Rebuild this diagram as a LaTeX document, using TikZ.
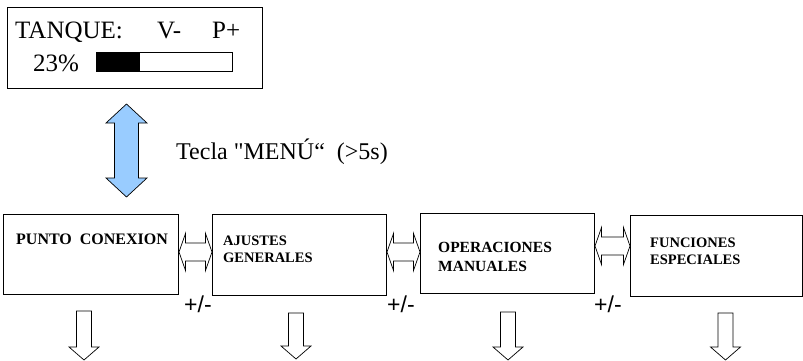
\documentclass[tikz,border=0pt]{standalone}
\usepackage{fontspec}
\setmainfont{Liberation Serif}
\newfontfamily\signfont{Liberation Sans}
\usetikzlibrary{positioning,calc}
\definecolor{menublue}{HTML}{99CCFF}

\tikzset{
  menubox/.style={draw, line width=1pt, anchor=north west, inner sep=0pt},
  boxtext/.style={anchor=base west, inner sep=0pt, align=left, font=\bfseries\fontsize{14.5}{17}\selectfont},
  bigtext/.style={anchor=base west, inner sep=0pt, font=\fontsize{25}{25}\selectfont},
  signtext/.style={anchor=base west, inner sep=0pt, font=\signfont\fontsize{23}{23}\selectfont},
  hollow/.style={draw, fill=white, line width=0.7pt},
}
% hollow double arrow between two boxes, centred at height #3
\newcommand\swaparrow[3]{%
  \coordinate (l) at (#1.east |- 0,#3);
  \coordinate (r) at (#2.west |- 0,#3);
  \draw[hollow] (l) -- ($(l)+(6.5,-18.5)$) -- ($(l)+(6.5,-9)$) -- ($(r)+(-6.5,-9)$)
    -- ($(r)+(-6.5,-18.5)$) -- (r) -- ($(r)+(-6.5,18.5)$) -- ($(r)+(-6.5,9)$)
    -- ($(l)+(6.5,9)$) -- ($(l)+(6.5,18.5)$) -- cycle;
}
% hollow arrow pointing down: centre x, top, tip
\newcommand\downblock[3]{%
  \draw[hollow] (#1-7.5,#2) -- (#1+7.5,#2) -- (#1+7.5,#3-13) -- (#1+15,#3-13)
    -- (#1,#3) -- (#1-15,#3-13) -- (#1-7.5,#3-13) -- cycle;
}

\begin{document}
\begin{tikzpicture}[x=1pt, y=-1pt]
  \useasboundingbox (0,0) rectangle (803,361);

  % display
  \node[menubox, minimum width=255pt, minimum height=81pt] (tanque) at (7,7) {};
  \node[bigtext] (nivel) at (15,39) {\makebox[142pt][l]{TANQUE:}\makebox[55pt][l]{V-}P+};
  \node[bigtext] (porcentaje) at (33,71) {23\%};
  \draw[line width=1pt] (96,53) rectangle (232,72);
  \fill (96,53) rectangle (140,72);

  % menu key
  \draw[fill=menublue, line width=0.7pt] (126.5,104) -- (147,123) -- (138.5,123) -- (138.5,178)
    -- (147,178) -- (126.5,197) -- (106,178) -- (114.5,178) -- (114.5,123) -- (106,123) -- cycle;
  \node[anchor=base west, inner sep=0pt, font=\fontsize{24}{24}\selectfont] (tecla) at (176,159) {Tecla \textquotedbl MENÚ“\ \ (>5s)};

  % menus
  \node[menubox, minimum width=175pt, minimum height=80pt] (conexion) at (3,214) {};
  \node[menubox, minimum width=174pt, minimum height=81pt] (ajustes) at (212,214) {};
  \node[menubox, minimum width=174pt, minimum height=80pt] (operaciones) at (420,213) {};
  \node[menubox, minimum width=172pt, minimum height=81pt] (funciones) at (630,215) {};

  % base anchor = last line
  \node[boxtext, font=\bfseries\fontsize{16}{19}\selectfont] (txtconexion) at (16,244) {PUNTO\ \ CONEXION};
  \node[boxtext, font=\bfseries\fontsize{14.5}{16.5}\selectfont] (txtajustes) at (223,262) {AJUSTES\\GENERALES};
  \node[boxtext, font=\bfseries\fontsize{15.5}{19}\selectfont] (txtoperaciones) at (438,271) {OPERACIONES\\MANUALES};
  \node[boxtext] (txtfunciones) at (650,264) {FUNCIONES\\ESPECIALES};

  \swaparrow{conexion}{ajustes}{252}
  \swaparrow{ajustes}{operaciones}{252}
  \swaparrow{operaciones}{funciones}{246}

  \node[signtext] (signo1) at (184,312) {+/-};
  \node[signtext] (signo2) at (387,312) {+/-};
  \node[signtext] (signo3) at (594,312) {+/-};

  \downblock{84}{311}{360}
  \downblock{296}{313}{359}
  \downblock{508}{312}{360}
  \downblock{725.5}{313}{360}
\end{tikzpicture}
\end{document}
